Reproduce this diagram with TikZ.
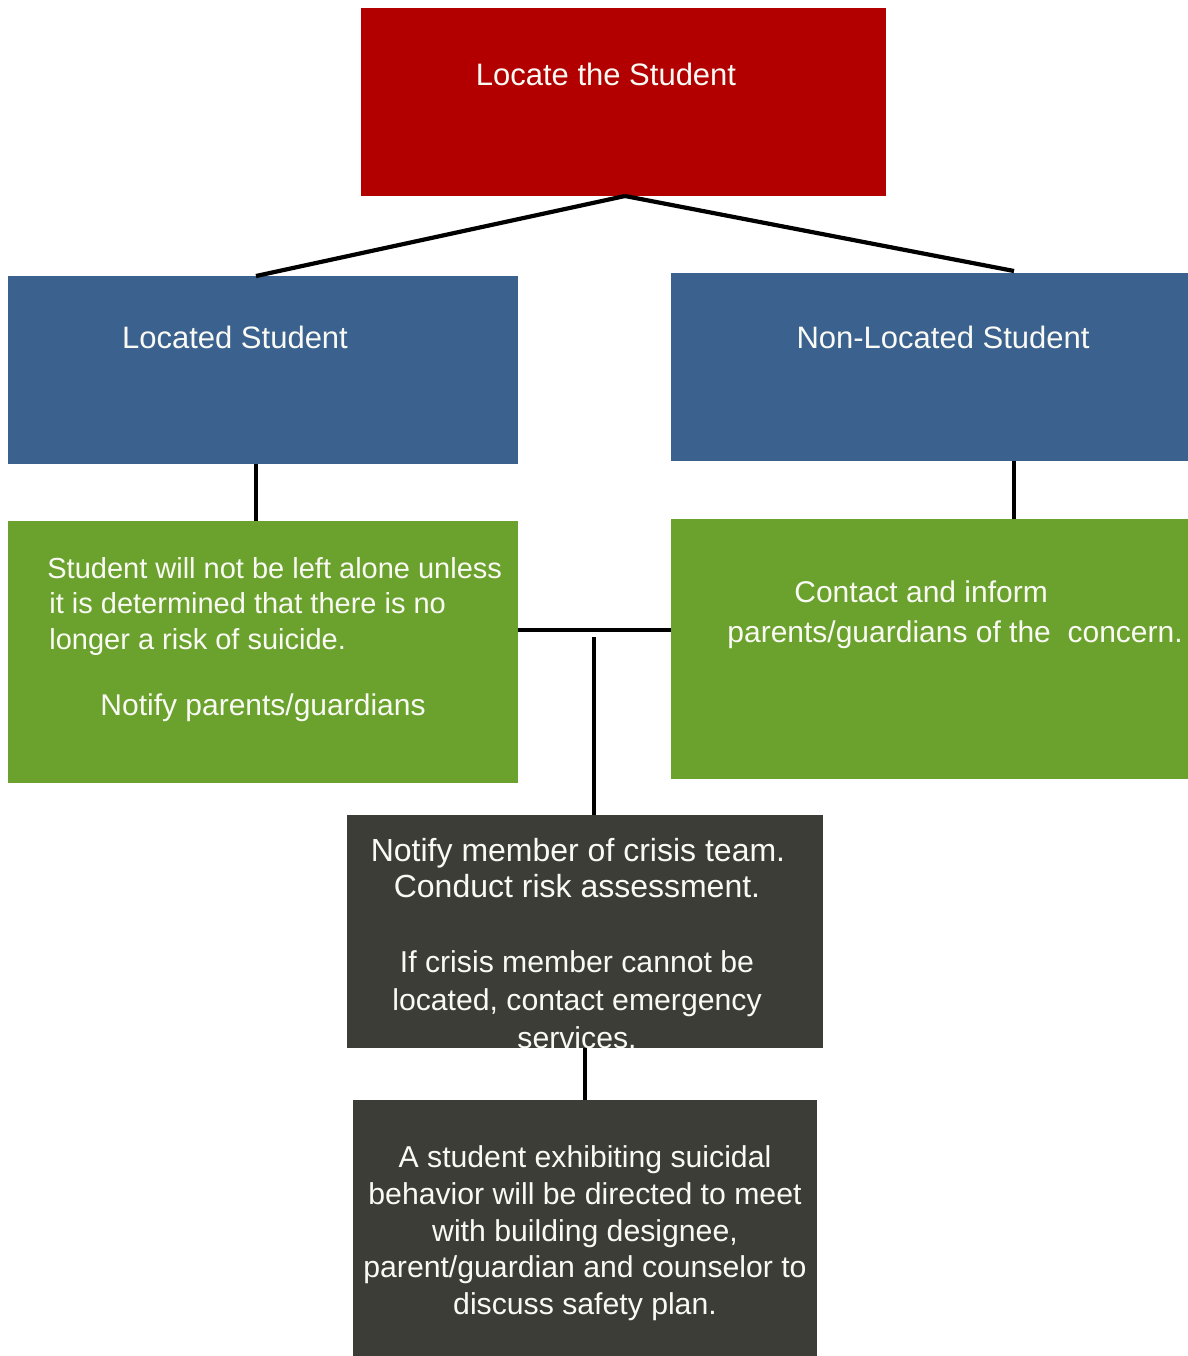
\documentclass[tikz,border=0pt]{standalone}
\usepackage{fontspec}
\setmainfont{Liberation Sans}
\definecolor{redc}{RGB}{178,0,0}
\definecolor{bluec}{RGB}{59,97,142}
\definecolor{greenc}{RGB}{107,162,46}
\definecolor{darkc}{RGB}{61,61,56}
\definecolor{txtc}{RGB}{250,250,245}
\tikzset{
  box/.style={draw=none, inner sep=0pt, outer sep=0pt},
  conn/.style={draw=black, line width=2.1pt},
  txt/.style={text=txtc, inner sep=0pt, font=\fontsize{15}{18}\selectfont},
  htxt/.style={text=txtc, inner sep=0pt, font=\fontsize{15.5}{18}\selectfont},
  gtxt/.style={text=txtc, inner sep=0pt, font=\fontsize{14.5}{18}\selectfont},
  dtxt/.style={text=txtc, inner sep=0pt, font=\fontsize{16}{19}\selectfont},
  etxt/.style={text=txtc, inner sep=0pt, font=\fontsize{15.1}{19}\selectfont},
}
\begin{document}
\begin{tikzpicture}[x=0.5pt,y=-0.5pt]
\useasboundingbox (0,0) rectangle (1188,1356);
% boxes
\node[box, fill=redc, minimum width=262.5pt, minimum height=94pt] (locate) at (623.5,102) {};
\node[box, fill=bluec, minimum width=255pt, minimum height=94pt] (located) at (263,370) {};
\node[box, fill=bluec, minimum width=258.5pt, minimum height=94pt] (nonlocated) at (929.5,367) {};
\node[box, fill=greenc, minimum width=255pt, minimum height=131pt] (greenL) at (263,652) {};
\node[box, fill=greenc, minimum width=258.5pt, minimum height=130pt] (greenR) at (929.5,649) {};
\node[box, fill=darkc, minimum width=238pt, minimum height=116.5pt] (crisis) at (585,931.5) {};
\node[box, fill=darkc, minimum width=232pt, minimum height=128pt] (plan) at (585,1228) {};
% connectors
\coordinate (top) at (625,196);
\draw[conn] (top) -- ([xshift=-3.5pt]located.north);
\draw[conn] (top) -- ([xshift=42.25pt,yshift=1pt]nonlocated.north);
\draw[conn] ([xshift=-3.5pt]located.south) -- ([xshift=-3.5pt]greenL.north);
\draw[conn] ([xshift=42.25pt]nonlocated.south) -- ([xshift=42.25pt]greenR.north);
\coordinate (hl) at (518,630);
\coordinate (hr) at (671,630);
\draw[conn] (hl) -- (hr);
\coordinate (jn) at (594,637);
\draw[conn] (jn) -- (jn |- crisis.north);
\draw[conn] (crisis.south) -- (plan.north);
% texts
\node[htxt, anchor=base] (t1) at (606,85) {Locate the Student};
\node[htxt, anchor=base] (t2) at (235,348) {Located Student};
\node[htxt, anchor=base] (t3) at (943,348) {Non-Located Student};
\node[gtxt, anchor=base west] (t4) at (47,578) {Student will not be left alone unless};
\node[gtxt, anchor=base west] (t5) at (49,613) {it is determined that there is no};
\node[gtxt, anchor=base west] (t6) at (49,649) {longer a risk of suicide.};
\node[txt, anchor=base] (t7) at (263,715) {Notify parents/guardians};
\node[txt, anchor=base west] (t8) at (794,602) {Contact and inform};
\node[txt, anchor=base west] (t9) at (727,642) {parents/guardians of the\ \ concern.};
\node[dtxt, anchor=base] (t10) at (578,861) {Notify member of crisis team.};
\node[dtxt, anchor=base] (t11) at (577,897) {Conduct risk assessment.};
\node[etxt, anchor=base] (t12) at (577,972) {If crisis member cannot be};
\node[etxt, anchor=base] (t13) at (577,1010) {located, contact emergency};
\node[etxt, anchor=base] (t14) at (577,1048) {services.};
\node[etxt, anchor=base] (t15) at (585,1167) {A student exhibiting suicidal};
\node[etxt, anchor=base] (t16) at (585,1204) {behavior will be directed to meet};
\node[etxt, anchor=base] (t17) at (585,1241) {with building designee,};
\node[etxt, anchor=base] (t18) at (585,1277) {parent/guardian and counselor to};
\node[etxt, anchor=base] (t19) at (585,1314) {discuss safety plan.};
\end{tikzpicture}
\end{document}
